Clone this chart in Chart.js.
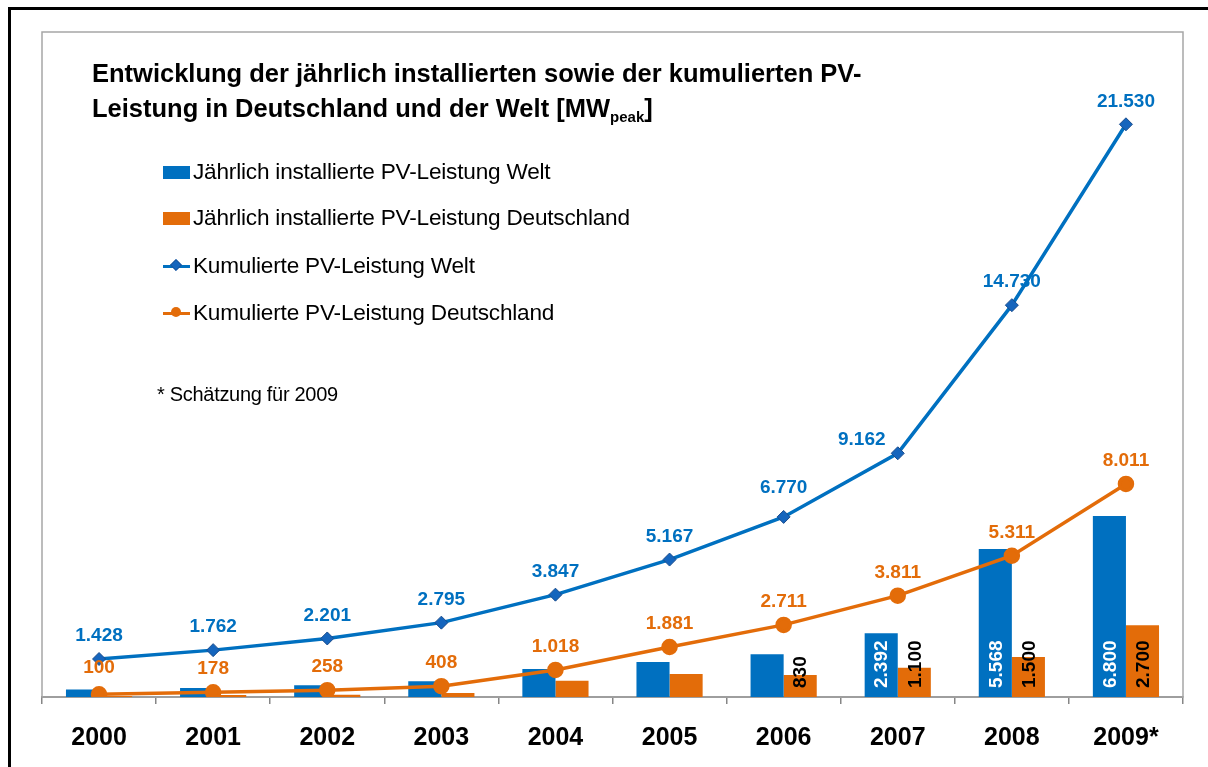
<!DOCTYPE html>
<html>
<head>
<meta charset="utf-8">
<script src="https://cdn.jsdelivr.net/npm/chart.js@4"></script>
<style>
  html, body { margin: 0; padding: 0; background: #fff; overflow: hidden; }
  body { width: 1208px; height: 767px; position: relative; font-family: "Liberation Sans", Arial, sans-serif; }
  #frame { position: absolute; left: 8px; top: 7px; width: 1300px; height: 900px; border-left: 3px solid #000; border-top: 3px solid #000; }
  #wrap { position: absolute; left: 0; top: 0; width: 1208px; height: 767px; }
  #title { position: absolute; left: 92px; top: 56px; font-weight: bold; font-size: 25.5px; line-height: 35px; color: #000; }
  #title sub { font-size: 15px; vertical-align: -5px; line-height: 0; }
  .leg { position: absolute; left: 163px; height: 30px; font-size: 22.6px; color: #000; display: flex; align-items: center; letter-spacing: -0.2px; }
  .sw { width: 27px; height: 13px; margin-right: 3px; position: relative; }
  .ln { width: 27px; height: 3px; margin-right: 3px; position: relative; }
  .ln i { position: absolute; left: 8px; top: -5px; width: 10px; height: 10px; }
  #note { position: absolute; left: 157px; top: 383px; font-size: 20px; color: #000; letter-spacing: -0.3px; }
</style>
</head>
<body>
<div id="frame"></div>
<div id="wrap"><canvas id="pvChart" width="1208" height="767"></canvas></div>
<div id="title">Entwicklung der jährlich installierten sowie der kumulierten PV-<br>Leistung in Deutschland und der Welt [MW<sub>peak</sub>]</div>
<div id="legend"></div>
<div id="note">* Schätzung für 2009</div>
<script>
// Daten
const years = ['2000', '2001', '2002', '2003', '2004', '2005', '2006', '2007', '2008', '2009*'];
const worldAnnual = [280, 334, 439, 594, 1052, 1320, 1603, 2392, 5568, 6800];
const germanyAnnual = [40, 78, 80, 150, 610, 863, 830, 1100, 1500, 2700];
const worldCumulative = [1428, 1762, 2201, 2795, 3847, 5167, 6770, 9162, 14730, 21530];
const germanyCumulative = [100, 178, 258, 408, 1018, 1881, 2711, 3811, 5311, 8011];

const blue = '#0070C0';
const orange = '#E36C09';
const fontFamily = '"Liberation Sans", Arial, sans-serif';

function fmt(n) {
    return String(n).replace(/\B(?=(\d{3})+(?!\d))/g, '.');
}

// Rahmen um die Zeichenfläche
const plotFrame = {
    id: 'plotFrame',
    beforeDatasetsDraw(chart) {
        const a = chart.chartArea;
        const ctx = chart.ctx;
        ctx.save();
        ctx.strokeStyle = '#A6A6A6';
        ctx.lineWidth = 1.5;
        ctx.strokeRect(a.left, a.top, a.right - a.left, a.bottom - a.top);
        ctx.restore();
    }
};

// Datenbeschriftungen
const valueLabels = {
    id: 'valueLabels',
    afterDatasetsDraw(chart, args, opts) {
        const ctx = chart.ctx;
        ctx.save();
        chart.data.datasets.forEach((ds, di) => {
            const meta = chart.getDatasetMeta(di);
            meta.data.forEach((el, i) => {
                const v = ds.data[i];
                if (ds.type === 'line') {
                    const shift = (opts.shift || {})[di + ':' + i] || {dx: 0, dy: 0};
                    ctx.font = 'bold 19px ' + fontFamily;
                    ctx.fillStyle = ds.borderColor;
                    ctx.textAlign = 'center';
                    ctx.textBaseline = 'middle';
                    ctx.fillText(fmt(v), el.x + shift.dx, el.y - 23 + shift.dy);
                } else if (ds.labelFrom !== undefined && i >= ds.labelFrom) {
                    ctx.save();
                    ctx.translate(el.x, el.base - 9);
                    ctx.rotate(-Math.PI / 2);
                    ctx.font = 'bold 19px ' + fontFamily;
                    ctx.fillStyle = ds.labelColor;
                    ctx.textAlign = 'left';
                    ctx.textBaseline = 'middle';
                    ctx.fillText(fmt(v), 0, 1);
                    ctx.restore();
                }
            });
        });
        ctx.restore();
    }
};

const ctx = document.getElementById('pvChart').getContext('2d');
const pvChart = new Chart(ctx, {
    data: {
        labels: years,
        datasets: [{
            type: 'bar',
            label: 'Jährlich installierte PV-Leistung Welt',
            data: worldAnnual,
            backgroundColor: blue,
            labelColor: '#fff',
            labelFrom: 7,
            order: 2
        }, {
            type: 'bar',
            label: 'Jährlich installierte PV-Leistung Deutschland',
            data: germanyAnnual,
            backgroundColor: orange,
            labelColor: '#000',
            labelFrom: 6,
            order: 2
        }, {
            type: 'line',
            label: 'Kumulierte PV-Leistung Welt',
            data: worldCumulative,
            borderColor: blue,
            borderWidth: 3.5,
            pointStyle: 'rectRot',
            pointRadius: 6.5,
            pointBackgroundColor: '#1565BD',
            pointBorderColor: '#1A4C8C',
            pointBorderWidth: 1,
            tension: 0,
            order: 1
        }, {
            type: 'line',
            label: 'Kumulierte PV-Leistung Deutschland',
            data: germanyCumulative,
            borderColor: orange,
            borderWidth: 3.5,
            pointStyle: 'circle',
            pointRadius: 6.5,
            pointBackgroundColor: orange,
            pointBorderColor: orange,
            tension: 0,
            order: 0
        }]
    },
    options: {
        responsive: false,
        animation: false,
        layout: { padding: { left: 42, right: 25, top: 32, bottom: 0 } },
        datasets: {
            bar: { categoryPercentage: 0.58, barPercentage: 1.0 }
        },
        scales: {
            x: {
                afterFit(scale) { scale.height = 70; },
                grid: {
                    offset: true,
                    drawOnChartArea: false,
                    drawTicks: true,
                    tickLength: 7,
                    color: '#868686',
                    lineWidth: 1.5
                },
                border: { color: '#868686', width: 2 },
                ticks: {
                    color: '#000',
                    padding: 19,
                    maxRotation: 0,
                    font: { family: fontFamily, size: 25, weight: 'bold' }
                }
            },
            y: {
                display: false,
                min: 0,
                max: 25000
            }
        },
        plugins: {
            legend: { display: false },
            tooltip: { enabled: false },
            valueLabels: {
                shift: { '2:6': { dx: 0, dy: -6 }, '2:7': { dx: -36, dy: 9 }, '3:0': { dx: 0, dy: -4 } }
            }
        }
    },
    plugins: [plotFrame, valueLabels]
});

// Legende
const legendEl = document.getElementById('legend');
const legendTops = [157, 203, 251, 298];
pvChart.data.datasets.forEach((ds, i) => {
    const item = document.createElement('div');
    item.className = 'leg';
    item.style.top = legendTops[i] + 'px';
    let mark;
    if (ds.type === 'bar') {
        mark = '<span class="sw" style="background:' + ds.backgroundColor + '"></span>';
    } else {
        const dot = ds.pointStyle === 'circle'
            ? 'border-radius:50%;background:' + ds.pointBackgroundColor
            : 'transform:rotate(45deg) scale(0.85);background:' + ds.pointBackgroundColor + ';box-sizing:border-box;border:1px solid ' + ds.pointBorderColor;
        mark = '<span class="ln" style="background:' + ds.borderColor + '"><i style="' + dot + '"></i></span>';
    }
    item.innerHTML = mark + '<span>' + ds.label + '</span>';
    legendEl.appendChild(item);
});
</script>
</body>
</html>
